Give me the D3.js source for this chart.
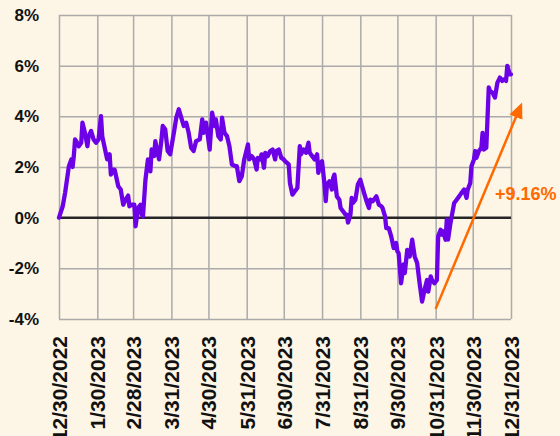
<!DOCTYPE html>
<html>
<head>
<meta charset="utf-8">
<script src="https://cdn.jsdelivr.net/npm/d3@7"></script>
<style>
  html, body { margin: 0; padding: 0; background: #fdf5e6; }
  svg { display: block; font-family: "Liberation Sans", Arial, sans-serif; }
</style>
</head>
<body>
<div id="chart"></div>
<script>
// cumulative return (%)
const tradeDates = [
  '2022-12-30','2023-01-02','2023-01-04','2023-01-07','2023-01-09','2023-01-10','2023-01-11','2023-01-12','2023-01-13','2023-01-15',
  '2023-01-17','2023-01-18','2023-01-20','2023-01-22','2023-01-23','2023-01-25','2023-01-27','2023-01-29','2023-01-31','2023-02-02',
  '2023-02-03','2023-02-05','2023-02-07','2023-02-09','2023-02-10','2023-02-12','2023-02-13','2023-02-16','2023-02-18','2023-02-20',
  '2023-02-22','2023-02-24','2023-02-25','2023-02-27','2023-03-01','2023-03-02','2023-03-04','2023-03-06','2023-03-07','2023-03-08',
  '2023-03-10','2023-03-11','2023-03-12','2023-03-14','2023-03-15','2023-03-17','2023-03-18','2023-03-19','2023-03-21','2023-03-23',
  '2023-03-24','2023-03-26','2023-03-28','2023-03-30','2023-04-02','2023-04-04','2023-04-06','2023-04-08','2023-04-10','2023-04-12',
  '2023-04-14','2023-04-16','2023-04-18','2023-04-20','2023-04-23','2023-04-25','2023-04-26','2023-04-28','2023-04-29','2023-05-01',
  '2023-05-03','2023-05-05','2023-05-06','2023-05-08','2023-05-10','2023-05-11','2023-05-13','2023-05-15','2023-05-17','2023-05-19',
  '2023-05-22','2023-05-23','2023-05-25','2023-05-27','2023-05-29','2023-06-01','2023-06-02','2023-06-04','2023-06-06','2023-06-08',
  '2023-06-09','2023-06-11','2023-06-12','2023-06-14','2023-06-15','2023-06-17','2023-06-19','2023-06-21','2023-06-23','2023-06-24',
  '2023-06-26','2023-06-28','2023-06-30','2023-07-01','2023-07-04','2023-07-05','2023-07-07','2023-07-09','2023-07-11','2023-07-13',
  '2023-07-14','2023-07-16','2023-07-18','2023-07-20','2023-07-21','2023-07-23','2023-07-25','2023-07-27','2023-07-28','2023-07-30',
  '2023-07-31','2023-08-02','2023-08-03','2023-08-04','2023-08-06','2023-08-08','2023-08-09','2023-08-10','2023-08-12','2023-08-14',
  '2023-08-15','2023-08-17','2023-08-19','2023-08-20','2023-08-21','2023-08-23','2023-08-24','2023-08-25','2023-08-27','2023-08-29',
  '2023-08-31','2023-09-01','2023-09-03','2023-09-05','2023-09-07','2023-09-08','2023-09-10','2023-09-11','2023-09-13','2023-09-15',
  '2023-09-17','2023-09-18','2023-09-20','2023-09-21','2023-09-23','2023-09-25','2023-09-27','2023-09-29','2023-09-30','2023-10-01',
  '2023-10-03','2023-10-05','2023-10-06','2023-10-08','2023-10-10','2023-10-12','2023-10-14','2023-10-16','2023-10-18','2023-10-20',
  '2023-10-22','2023-10-24','2023-10-25','2023-10-27','2023-10-28','2023-10-30','2023-11-01','2023-11-02','2023-11-04','2023-11-05',
  '2023-11-06','2023-11-08','2023-11-09','2023-11-10','2023-11-12','2023-11-13','2023-11-15','2023-11-17','2023-11-19','2023-11-21',
  '2023-11-23','2023-11-25','2023-11-26','2023-11-28','2023-11-29','2023-12-01','2023-12-02','2023-12-03','2023-12-05','2023-12-07',
  '2023-12-08','2023-12-09','2023-12-11','2023-12-13','2023-12-14','2023-12-16','2023-12-18','2023-12-20','2023-12-22','2023-12-24',
  '2023-12-26','2023-12-27','2023-12-28','2023-12-30','2023-12-31'
];
const cumReturn = [
  0, 0.45, 1.0, 2.03, 2.3, 2.0, 2.43, 3.09, 3.02, 2.82,
  2.96, 3.75, 3.35, 2.82, 3.22, 3.42, 3.09, 2.96, 3.09, 4.01,
  3.22, 2.76, 2.3, 2.5, 1.7, 1.9, 1.9, 1.24, 1.11, 0.51,
  0.71, 0.87, 0.45, 0.51, 0.51, -0.34, 0.38, 0.51, 0.12, 0.05,
  1.5, 1.9, 2.3, 1.83, 2.69, 2.43, 3.02, 2.76, 2.3, 3.09,
  3.62, 3.49, 2.63, 2.5, 3.35, 3.95, 4.28, 3.95, 3.62, 3.75,
  3.35, 2.76, 2.63, 3.02, 3.09, 3.88, 3.35, 3.75, 3.42, 2.69,
  4.15, 3.62, 3.88, 3.22, 3.09, 3.95, 3.35, 3.22, 2.82, 2.1,
  2.03, 2.03, 1.44, 1.63, 2.3, 2.89, 2.3, 2.43, 2.3, 1.9,
  2.36, 2.3, 2.5, 1.97, 2.56, 2.43, 2.63, 2.69, 2.3, 2.63,
  2.69, 2.36, 2.3, 2.23, 2.1, 1.37, 0.91, 1.04, 1.17, 2.82,
  2.5, 2.69, 2.56, 2.96, 2.56, 2.43, 2.3, 2.5, 1.77, 2.17,
  2.23, 1.31, 0.65, 1.31, 1.44, 1.11, 1.57, 1.7, 0.84, 0.71,
  0.38, 0.25, 0.12, 0.12, -0.19, 0.12, 0.78, 0.58, 0.71, 1.31,
  1.5, 1.31, 0.98, 0.65, 0.38, 0.71, 0.65, 0.71, 0.84, 0.51,
  0.45, 0.38, 0.05, -0.41, -0.41, -0.74, -1.2, -1.0, -1.33, -1.4,
  -2.59, -1.85, -2.19, -1.27, -1.53, -0.87, -1.53, -1.79, -2.59, -3.31,
  -2.85, -2.46, -2.92, -2.32, -2.46, -2.59, -2.46, -0.74, -0.48, -0.67,
  -0.54, -0.87, -0.08, -0.87, -0.21, 0.05, 0.58, 0.71, 0.84, 0.98,
  1.11, 0.78, 1.11, 1.37, 2.03, 2.3, 2.63, 2.36, 2.63, 2.76,
  3.35, 2.69, 2.76, 5.14, 5.0, 4.94, 4.74, 5.33, 5.53, 5.4,
  5.47, 5.4, 5.99, 5.66, 5.66
];

const xTickDates = ['2022-12-30','2023-01-30','2023-02-28','2023-03-31','2023-04-30','2023-05-31',
  '2023-06-30','2023-07-31','2023-08-31','2023-09-30','2023-10-31','2023-11-30','2023-12-31'];
const yTicks = [-4, -2, 0, 2, 4, 6, 8];

// orange trend arrow: start / end (date, %)
const arrowDates = ['2023-10-31', '2024-01-09'];
const arrowValues = [-3.6, 4.55];
const arrowLabel = '+9.16%';

const width = 560, height = 436;
const margin = { top: 15, right: 49, bottom: 117, left: 59 };
const w = width - margin.left - margin.right;
const h = height - margin.top - margin.bottom;

const parse = d3.timeParse('%Y-%m-%d');
const fmt = d3.timeFormat('%-m/%-d/%Y');
const data = tradeDates.map((d, i) => ({ date: parse(d), value: cumReturn[i] }));

const svg = d3.select('#chart').append('svg')
    .attr('width', width)
    .attr('height', height);

svg.append('rect')
    .attr('width', width)
    .attr('height', height)
    .attr('fill', '#fdf5e6');

const g = svg.append('g')
    .attr('transform', 'translate(' + margin.left + ',' + margin.top + ')');

const x = d3.scaleTime()
    .domain([parse(xTickDates[0]), parse(xTickDates[xTickDates.length - 1])])
    .range([0, w]);
const y = d3.scaleLinear()
    .domain([-4, 8])
    .range([h, 0]);

// horizontal grid + y labels
const yAxis = g.append('g')
    .call(d3.axisLeft(y).tickValues(yTicks).tickSize(-w).tickPadding(20).tickFormat(d => d + '%'));
yAxis.select('.domain').remove();
yAxis.selectAll('line').attr('stroke', '#ababab').attr('stroke-width', 1.5);
yAxis.selectAll('text')
    .attr('fill', '#111')
    .attr('font-size', '17px')
    .attr('font-weight', 'bold')
    .attr('font-family', '"Liberation Sans", Arial, sans-serif');

// vertical grid + rotated date labels
const xAxis = g.append('g')
    .attr('transform', 'translate(0,' + h + ')')
    .call(d3.axisBottom(x).tickValues(xTickDates.map(parse)).tickSize(-h).tickFormat(fmt));
xAxis.select('.domain').remove();
xAxis.selectAll('line').attr('stroke', '#ababab').attr('stroke-width', 1.5);
xAxis.selectAll('text')
    .attr('fill', '#111')
    .attr('font-size', '21px')
    .attr('font-weight', 'bold')
    .attr('font-family', '"Liberation Sans", Arial, sans-serif')
    .attr('text-anchor', 'end')
    .attr('transform', 'rotate(-90)')
    .attr('x', -17)
    .attr('y', 0)
    .attr('dy', '0.36em');

// zero line
g.append('line')
    .attr('x1', 0)
    .attr('x2', w)
    .attr('y1', y(0))
    .attr('y2', y(0))
    .attr('stroke', '#262626')
    .attr('stroke-width', 2.5);

const line = d3.line()
    .x(d => x(d.date))
    .y(d => y(d.value));

g.append('path')
    .datum(data)
    .attr('fill', 'none')
    .attr('stroke', '#6c00e6')
    .attr('stroke-width', 4.3)
    .attr('stroke-linejoin', 'round')
    .attr('stroke-linecap', 'round')
    .attr('d', line);

// arrow
svg.append('defs').append('marker')
    .attr('id', 'head')
    .attr('markerUnits', 'userSpaceOnUse')
    .attr('viewBox', '0 0 16 14')
    .attr('refX', 2)
    .attr('refY', 7)
    .attr('markerWidth', 16)
    .attr('markerHeight', 14)
    .attr('orient', 'auto')
  .append('path')
    .attr('d', 'M0,0 L16,7 L0,14 Z')
    .attr('fill', '#ff6a00');

const ax0 = x(parse(arrowDates[0])), ay0 = y(arrowValues[0]);
const ax1 = x(parse(arrowDates[1])), ay1 = y(arrowValues[1]);
const len = Math.hypot(ax1 - ax0, ay1 - ay0);
const k = (len - 14) / len;

g.append('line')
    .attr('x1', ax0)
    .attr('y1', ay0)
    .attr('x2', ax0 + (ax1 - ax0) * k)
    .attr('y2', ay0 + (ay1 - ay0) * k)
    .attr('stroke', '#ff6a00')
    .attr('stroke-width', 2.5)
    .attr('marker-end', 'url(#head)');

g.append('text')
    .attr('x', 436)
    .attr('y', 185)
    .attr('fill', '#ff6a00')
    .attr('font-size', '18px')
    .attr('font-weight', 'bold')
    .text(arrowLabel);
</script>
</body>
</html>
